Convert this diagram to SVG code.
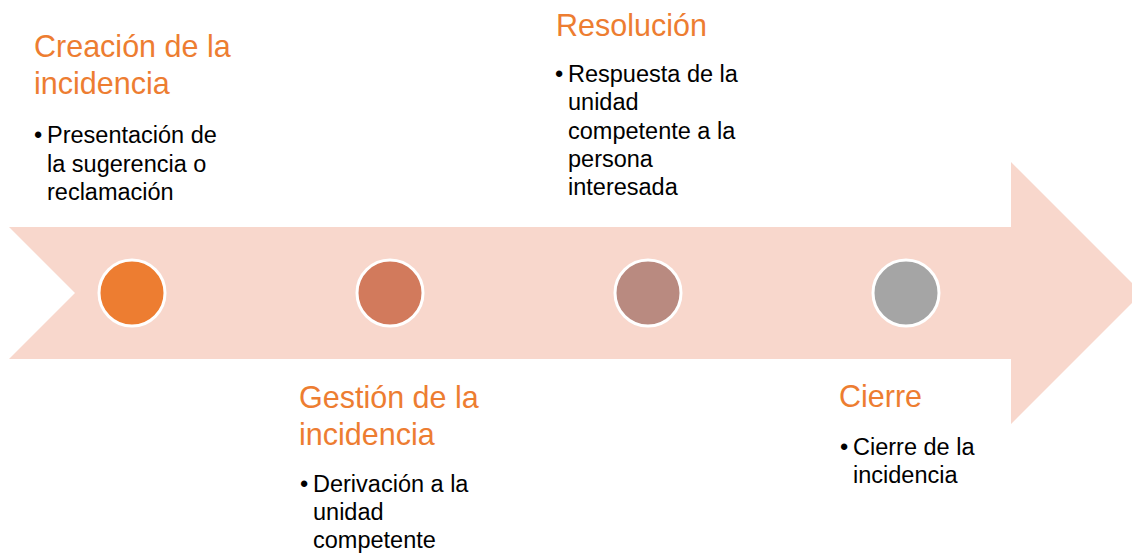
<svg xmlns="http://www.w3.org/2000/svg" width="1132" height="555" viewBox="0 0 1132 555">
<style>
.t{font-family:"Liberation Sans",Arial,sans-serif;font-size:30.5px;fill:#ED7D31}
.b{font-family:"Liberation Sans",Arial,sans-serif;font-size:23.5px;fill:#000}
.c{stroke:#fff;stroke-width:3}
</style>
<rect width="1132" height="555" fill="#fff"/>
<g id="arrow">
<polygon points="9,227 1011,227 1011,162 1142,293 1011,424 1011,359 9,359 75,293" fill="#F8D7CC"/>
</g>
<g id="connectors"></g>
<g id="step1">
<circle class="c" cx="132" cy="293" r="33" fill="#ED7D31"/>
<text class="t" x="34" y="57">Creación de la</text>
<text class="t" x="34" y="94">incidencia</text>
<text class="b" x="34" y="143">•</text>
<text class="b" x="47" y="143">Presentación de</text>
<text class="b" x="47" y="172">la sugerencia o</text>
<text class="b" x="47" y="200">reclamación</text>
</g>
<g id="step2">
<circle class="c" cx="390" cy="293" r="33" fill="#D27A5C"/>
<text class="t" x="299" y="408">Gestión de la</text>
<text class="t" x="299" y="445">incidencia</text>
<text class="b" x="300" y="492">•</text>
<text class="b" x="313" y="492">Derivación a la</text>
<text class="b" x="313" y="520">unidad</text>
<text class="b" x="313" y="548">competente</text>
</g>
<g id="step3">
<circle class="c" cx="648" cy="293" r="33" fill="#B98A80"/>
<text class="t" x="556" y="36">Resolución</text>
<text class="b" x="555" y="82">•</text>
<text class="b" x="568" y="82">Respuesta de la</text>
<text class="b" x="568" y="110">unidad</text>
<text class="b" x="568" y="139">competente a la</text>
<text class="b" x="568" y="167">persona</text>
<text class="b" x="568" y="195">interesada</text>
</g>
<g id="step4">
<circle class="c" cx="906" cy="293" r="33" fill="#A5A5A5"/>
<text class="t" x="839" y="407">Cierre</text>
<text class="b" x="840" y="455">•</text>
<text class="b" x="853" y="455">Cierre de la</text>
<text class="b" x="853" y="483">incidencia</text>
</g>
</svg>
